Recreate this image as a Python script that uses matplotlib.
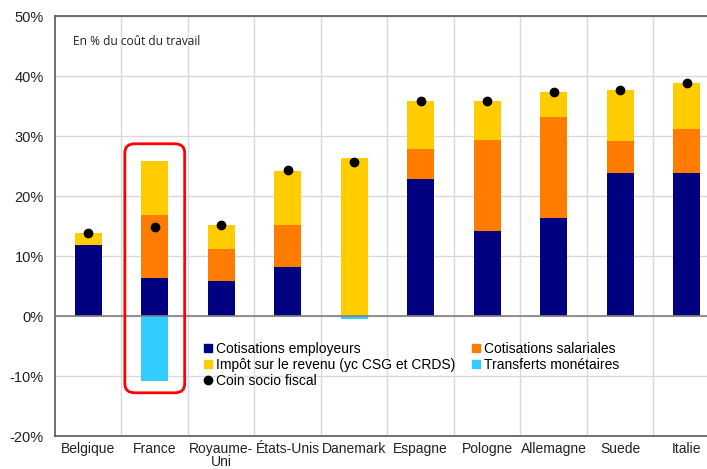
import matplotlib.pyplot as plt
import numpy as np
from matplotlib.lines import Line2D
from matplotlib.patches import FancyBboxPatch

plt.rcParams['font.family'] = ['Liberation Sans', 'DejaVu Sans']

pays = ['Belgique', 'France', 'Royaume-\nUni', 'États-Unis', 'Danemark',
        'Espagne', 'Pologne', 'Allemagne', 'Suede', 'Italie']
employeurs = [11.8, 6.3, 5.9, 8.2, 0.0, 22.9, 14.1, 16.4, 23.8, 23.9]
salariales = [0.0, 10.5, 5.2, 7.0, 0.0, 4.9, 15.2, 16.8, 5.4, 7.2]
impot = [2.1, 9.0, 4.0, 9.0, 26.3, 8.0, 6.5, 4.1, 8.4, 7.7]
transferts = [0.0, -10.8, 0.0, 0.0, -0.5, 0.0, 0.0, 0.0, 0.0, 0.0]
coin = [13.9, 14.9, 15.2, 24.3, 25.7, 35.8, 35.8, 37.3, 37.6, 38.8]

c_emp = '#000080'
c_sal = '#ff7c00'
c_imp = '#ffcc00'
c_tr = '#33ccff'

fig = plt.figure(figsize=(7.07, 4.69), dpi=100)
ax = fig.add_axes([55 / 707, 1 - 436 / 469, 665 / 707, 420 / 469])

x = np.arange(len(pays))
w = 0.4
emp = np.array(employeurs)
sal = np.array(salariales)
imp = np.array(impot)
ax.bar(x, emp, w, color=c_emp, zorder=3)
ax.bar(x, sal, w, bottom=emp, color=c_sal, zorder=3)
ax.bar(x, imp, w, bottom=emp + sal, color=c_imp, zorder=3)
ax.bar(x, transferts, w, color=c_tr, zorder=3)
ax.scatter(x, coin, s=36, color='black', zorder=4)

ax.set_xlim(-0.5, len(pays) - 0.5)
ax.set_ylim(-20, 50)
ax.set_yticks(range(-20, 51, 10))
ax.set_yticklabels([f'{v}%' for v in range(-20, 51, 10)], fontsize=10.5, color='#222222')
ax.set_xticks(x)
ax.set_xticklabels(pays, fontsize=10, color='#222222', linespacing=0.95)
ax.set_xticks(x[:-1] + 0.5, minor=True)
ax.tick_params(axis='both', which='both', length=0)
ax.tick_params(axis='y', pad=8)
ax.tick_params(axis='x', pad=4)

ax.grid(axis='y', color='#d9d9d9', lw=1, zorder=0)
ax.grid(axis='x', which='minor', color='#d9d9d9', lw=1, zorder=0)
ax.axhline(0, color='#808080', lw=1.2, zorder=3.5)
for s in ['top', 'left', 'bottom']:
    ax.spines[s].set_color('#595959')
    ax.spines[s].set_linewidth(1.2)
ax.spines['right'].set_visible(False)

ax.text(0.027, 0.94, 'En % du coût du travail', transform=ax.transAxes,
        fontsize=8.6, family='Open Sans', color='#222222', va='center')

# cadre rouge autour de la France
fr = 1
box = FancyBboxPatch((fr - 0.45, transferts[fr] - 2), 0.9,
                     employeurs[fr] + salariales[fr] + impot[fr] - transferts[fr] + 4.9,
                     boxstyle='round,pad=0,rounding_size=0.15',
                     mutation_aspect=10, fill=False, ec='#ff0000', lw=2, zorder=5)
ax.add_patch(box)

handles = [
    Line2D([], [], marker='s', ls='', color=c_emp, markersize=6, label='Cotisations employeurs'),
    Line2D([], [], marker='s', ls='', color=c_imp, markersize=6, label='Impôt sur le revenu (yc CSG et CRDS)'),
    Line2D([], [], marker='o', ls='', color='black', markersize=6, label='Coin socio fiscal'),
    Line2D([], [], marker='s', ls='', color=c_sal, markersize=6, label='Cotisations salariales'),
    Line2D([], [], marker='s', ls='', color=c_tr, markersize=6, label='Transferts monétaires'),
]
ax.legend(handles=handles, ncol=2, loc='upper left', bbox_to_anchor=(0.215, 0.238),
          frameon=False, fontsize=10, handlelength=0.6, handletextpad=0.3,
          labelspacing=0.15, columnspacing=1.2, borderaxespad=0)

fig.savefig('out.png', dpi=100)
